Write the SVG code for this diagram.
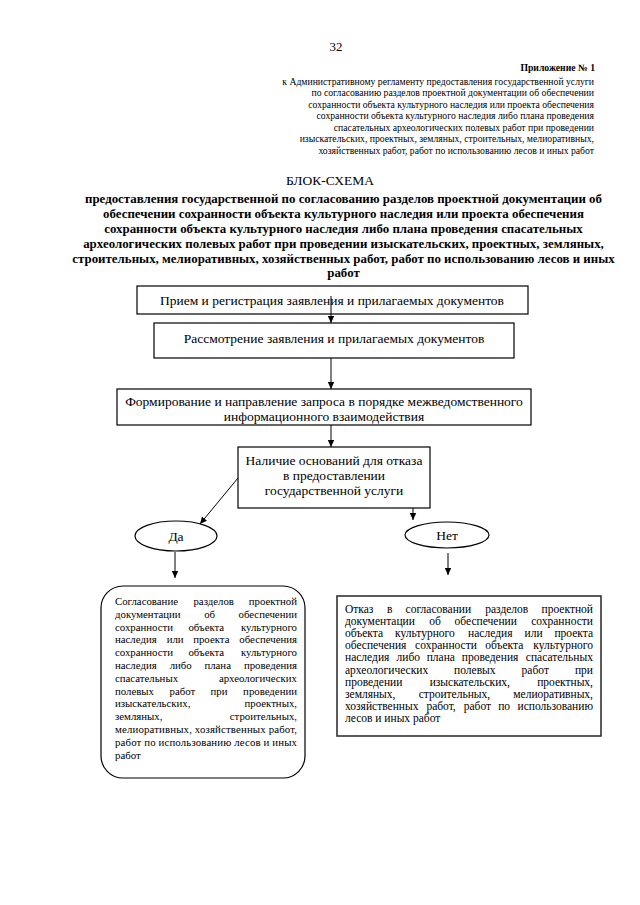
<svg xmlns="http://www.w3.org/2000/svg" width="640" height="905" viewBox="0 0 640 905" font-family="'Liberation Serif', 'Times New Roman', serif">
<defs>
<style>
text,tspan{font-family:"Liberation Serif","Times New Roman",serif;fill:#000}
.hd{font-size:9.7px}
.ti{font-size:12.9px;font-weight:bold;text-anchor:middle}
.bx{font-size:13.5px;text-anchor:middle}
.sl{font-size:10.8px}
.sr{font-size:11.5px}
.node{fill:#fff;stroke:#000;stroke-width:1.2}
.conn{stroke:#000;stroke-width:1;fill:none;marker-end:url(#ah)}
.e{text-anchor:end}
.m{text-anchor:middle}
</style>
<marker id="ah" markerUnits="userSpaceOnUse" markerWidth="8" markerHeight="8" viewBox="0 0 8 8" refX="7" refY="4" orient="auto">
<path d="M0,0.8 L7,4 L0,7.2 Z" fill="#000"/>
</marker>
</defs>
<rect width="640" height="905" fill="#fff"/>
<g id="header">
<text x="336" y="51" font-size="12.9" text-anchor="middle">32</text>
<text x="595" y="70.5" font-size="9.7" font-weight="bold" text-anchor="end">Приложение № 1</text>
<text class="hd e" x="594" y="84.5">к Административному регламенту предоставления государственной услуги</text>
<text class="hd e" x="594" y="96">по согласованию разделов проектной документации об обеспечении</text>
<text class="hd e" x="594" y="107.5">сохранности объекта культурного наследия или проекта обеспечения</text>
<text class="hd e" x="594" y="119">сохранности объекта культурного наследия либо плана проведения</text>
<text class="hd e" x="594" y="130.5">спасательных археологических полевых работ при проведении</text>
<text class="hd e" x="594" y="142">изыскательских, проектных, земляных, строительных, мелиоративных,</text>
<text class="hd e" x="594" y="153.5">хозяйственных работ, работ по использованию лесов и иных работ</text>
</g>
<g id="title">
<text x="330" y="185" font-size="13.5" text-anchor="middle">БЛОК-СХЕМА</text>
<text class="ti" x="343.5" y="203">предоставления государственной по согласованию разделов проектной документации об</text>
<text class="ti" x="343.5" y="218">обеспечении сохранности объекта культурного наследия или проекта обеспечения</text>
<text class="ti" x="343.5" y="233">сохранности объекта культурного наследия либо плана проведения спасательных</text>
<text class="ti" x="343.5" y="248">археологических полевых работ при проведении изыскательских, проектных, земляных,</text>
<text class="ti" x="343.5" y="263">строительных, мелиоративных, хозяйственных работ, работ по использованию лесов и иных</text>
<text class="ti" x="343.5" y="277">работ</text>
</g>
<g id="n1">
<rect class="node" x="137" y="286" width="391" height="28"/>
<text class="bx" x="332" y="304.5">Прием и регистрация заявления и прилагаемых документов</text>
</g>
<g id="n2">
<rect class="node" x="154" y="323" width="360" height="35"/>
<text class="bx" x="334" y="342.5">Рассмотрение заявления и прилагаемых документов</text>
</g>
<g id="n3">
<rect class="node" x="117" y="389" width="414" height="36"/>
<text class="bx" x="324" y="405.5">Формирование и направление запроса в порядке межведомственного</text>
<text class="bx" x="324" y="420.5">информационного взаимодействия</text>
</g>
<g id="n4">
<rect class="node" x="238" y="447" width="192" height="61"/>
<text class="bx" x="334" y="464.5" font-size="13.2">Наличие оснований для отказа</text>
<text class="bx" x="334" y="479.5" font-size="13.2">в предоставлении</text>
<text class="bx" x="334" y="494.5" font-size="13.2">государственной услуги</text>
</g>
<g id="yes">
<ellipse class="node" cx="176" cy="536" rx="41" ry="15"/>
<text class="bx" x="176" y="540.5" font-size="13.2">Да</text>
</g>
<g id="no">
<ellipse class="node" cx="447" cy="535" rx="42" ry="13"/>
<text class="bx" x="447" y="539.5" font-size="13.2">Нет</text>
</g>
<g id="n5">
<rect class="node" x="101" y="586" width="204" height="192" rx="22" ry="22"/>
<text class="sl" y="605"><tspan x="115">Согласование</tspan><tspan x="213.7" class="m">разделов</tspan><tspan x="297" class="e">проектной</tspan></text>
<text class="sl" y="617.8"><tspan x="115">документации</tspan><tspan x="209.6" class="m">об</tspan><tspan x="297" class="e">обеспечении</tspan></text>
<text class="sl" y="630.6"><tspan x="115">сохранности</tspan><tspan x="206.3" class="m">объекта</tspan><tspan x="297" class="e">культурного</tspan></text>
<text class="sl" y="643.4"><tspan x="115">наследия</tspan><tspan x="166.7">или</tspan><tspan x="193.2">проекта</tspan><tspan x="297" class="e">обеспечения</tspan></text>
<text class="sl" y="656.2"><tspan x="115">сохранности</tspan><tspan x="206.3" class="m">объекта</tspan><tspan x="297" class="e">культурного</tspan></text>
<text class="sl" y="669"><tspan x="115">наследия</tspan><tspan x="169.7">либо</tspan><tspan x="204.4">плана</tspan><tspan x="297" class="e">проведения</tspan></text>
<text class="sl" y="681.8"><tspan x="115">спасательных</tspan><tspan x="297" class="e">археологических</tspan></text>
<text class="sl" y="694.6"><tspan x="115">полевых</tspan><tspan x="169.5">работ</tspan><tspan x="210.6">при</tspan><tspan x="297" class="e">проведении</tspan></text>
<text class="sl" y="707.4"><tspan x="115">изыскательских,</tspan><tspan x="297" class="e">проектных,</tspan></text>
<text class="sl" y="720.2"><tspan x="115">земляных,</tspan><tspan x="297" class="e">строительных,</tspan></text>
<text class="sl" x="115" y="733" textLength="182" lengthAdjust="spacing">мелиоративных, хозяйственных работ,</text>
<text class="sl" x="115" y="745.8" textLength="182" lengthAdjust="spacing">работ по использованию лесов и иных</text>
<text class="sl" x="115" y="758.6">работ</text>
</g>
<g id="n6">
<rect x="337" y="596" width="264" height="140" fill="#fff" stroke="#333" stroke-width="1.6"/>
<text class="sr" y="613"><tspan x="345">Отказ</tspan><tspan x="386.9">в</tspan><tspan x="405.6">согласовании</tspan><tspan x="485.2">разделов</tspan><tspan x="593" class="e">проектной</tspan></text>
<text class="sr" y="625.1"><tspan x="345">документации</tspan><tspan x="429.2">об</tspan><tspan x="454.6">обеспечении</tspan><tspan x="593" class="e">сохранности</tspan></text>
<text class="sr" y="637.2"><tspan x="345">объекта</tspan><tspan x="395.1">культурного</tspan><tspan x="468.1">наследия</tspan><tspan x="524.6">или</tspan><tspan x="593" class="e">проекта</tspan></text>
<text class="sr" y="649.3"><tspan x="345">обеспечения</tspan><tspan x="415.1">сохранности</tspan><tspan x="485.2">объекта</tspan><tspan x="593" class="e">культурного</tspan></text>
<text class="sr" y="661.4"><tspan x="345">наследия</tspan><tspan x="396.5">либо</tspan><tspan x="426.7">плана</tspan><tspan x="461.8">проведения</tspan><tspan x="593" class="e">спасательных</tspan></text>
<text class="sr" y="673.5"><tspan x="345">археологических</tspan><tspan x="454.1">полевых</tspan><tspan x="521.6">работ</tspan><tspan x="593" class="e">при</tspan></text>
<text class="sr" y="685.6"><tspan x="345">проведении</tspan><tspan x="469.8" class="m">изыскательских,</tspan><tspan x="593" class="e">проектных,</tspan></text>
<text class="sr" y="697.7"><tspan x="345">земляных,</tspan><tspan x="454.4" class="m">строительных,</tspan><tspan x="593" class="e">мелиоративных,</tspan></text>
<text class="sr" y="709.8"><tspan x="345">хозяйственных</tspan><tspan x="426.4">работ,</tspan><tspan x="463.7">работ</tspan><tspan x="498.2">по</tspan><tspan x="593" class="e">использованию</tspan></text>
<text class="sr" x="345" y="721.9">лесов и иных работ</text>
</g>
<g id="connectors">
<line class="conn" x1="331" y1="296" x2="331" y2="323"/>
<line class="conn" x1="331" y1="358" x2="331" y2="389"/>
<line class="conn" x1="331" y1="425" x2="331" y2="447"/>
<line class="conn" x1="238" y1="478" x2="200" y2="524"/>
<line class="conn" x1="413" y1="508" x2="413" y2="520"/>
<line class="conn" x1="175" y1="552" x2="175" y2="578"/>
<line class="conn" x1="448" y1="553" x2="448" y2="575"/>
</g>
</svg>
